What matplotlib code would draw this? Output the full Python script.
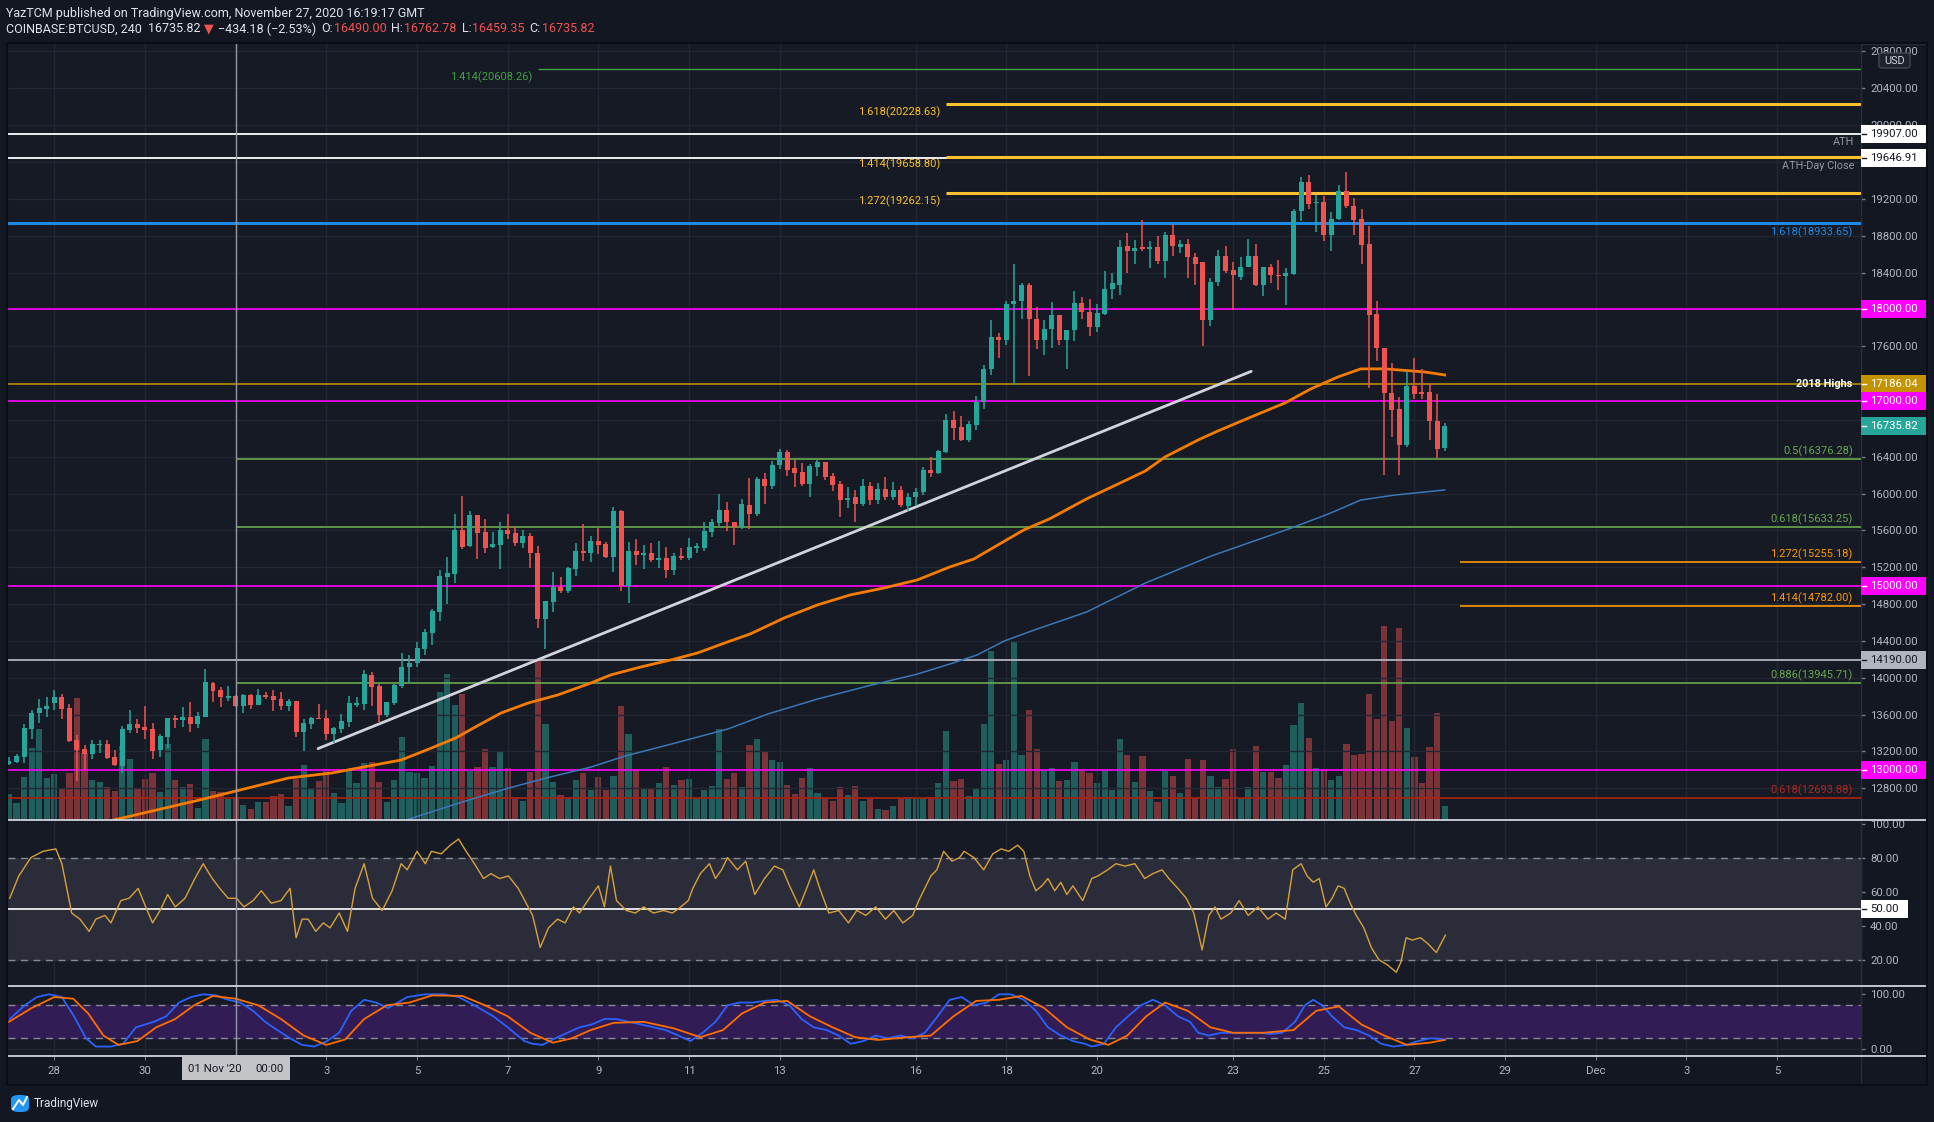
import matplotlib
matplotlib.use('Agg')
import matplotlib.pyplot as plt
from matplotlib.patches import Rectangle, FancyBboxPatch
from matplotlib.lines import Line2D
import numpy as np
import pandas as pd

plt.rcParams['font.family'] = ['Roboto', 'DejaVu Sans']

W, H = 1934, 1122
BG = '#131722'
PANE = '#161a25'
GRID = '#232733'
AXTXT = '#b2b5be'
UP = '#26a69a'
DOWN = '#ef5350'

# ---- 4h candles, COINBASE:BTCUSD, from 2020-10-27 00:00 ----
start = pd.Timestamp('2020-10-27 00:00')

opens = [
    13060, 13089, 13143, 13447, 13614, 13664, 13730, 13787, 13668, 13324,
    13223, 13172, 13270, 13277, 13140, 13042, 13433, 13498, 13465, 13444,
    13216, 13360, 13567, 13541, 13574, 13501, 13578, 13939, 13867, 13780,
    13802, 13697, 13813, 13704, 13813, 13802, 13769, 13693, 13748, 13411,
    13498, 13563, 13563, 13389, 13444, 13523, 13704, 13715, 14030, 13911,
    13600, 13730, 13914, 14121, 14164, 14316, 14490, 14714, 15098, 15130,
    15604, 15431, 15767, 15583, 15424, 15445, 15604, 15572, 15467, 15539,
    15355, 14635, 14826, 14982, 14946, 15185, 15373, 15351, 15485, 15452,
    15311, 15811, 14996, 15373, 15337, 15355, 15279, 15297, 15170, 15322,
    15304, 15413, 15413, 15586, 15684, 15817, 15696, 15642, 15871, 15775,
    16154, 16079, 16309, 16450, 16275, 16234, 16100, 16288, 16342, 16188,
    16100, 15925, 15959, 15884, 16079, 15934, 16046, 15959, 16034, 15863,
    15959, 16013, 16254, 16225, 16450, 16796, 16721, 16584, 16746, 16996,
    17350, 17700, 17671, 18058, 18092, 18267, 17892, 17663, 17788, 17942,
    17663, 17775, 18071, 17968, 17805, 17950, 18218, 18268, 18691, 18632,
    18668, 18659, 18677, 18527, 18804, 18682, 18709, 18573, 18509, 17882,
    18300, 18582, 18427, 18355, 18455, 18582, 18268, 18455, 18377, 18359,
    18382, 19064, 19382, 19155, 19168, 18809, 18982, 19282, 19127, 18982,
    18714, 17945, 17577, 17096, 16918, 16532, 17168, 17105, 17105, 16791,
    16490]
highs = [
    13136, 13172, 13494, 13650, 13769, 13787, 13867, 13820, 13711, 13378,
    13270, 13324, 13324, 13324, 13216, 13480, 13650, 13552, 13693, 13505,
    13389, 13563, 13592, 13679, 13737, 13625, 14095, 13957, 13903, 13910,
    13813, 13820, 13827, 13878, 13845, 13867, 13845, 13766, 13748, 13552,
    13577, 13715, 13650, 13465, 13603, 13802, 13787, 14084, 14063, 13932,
    13737, 13932, 14265, 14244, 14385, 14530, 14750, 15170, 15315, 15778,
    15974, 15811, 15767, 15727, 15583, 15691, 15778, 15648, 15604, 15568,
    15431, 14834, 15149, 15098, 15199, 15463, 15670, 15539, 15630, 15470,
    15858, 15822, 15478, 15507, 15438, 15460, 15485, 15416, 15358, 15409,
    15518, 15460, 15691, 15727, 15995, 15905, 15696, 15942, 16167, 16175,
    16225, 16359, 16488, 16471, 16367, 16329, 16317, 16363, 16342, 16225,
    16134, 16067, 16034, 16154, 16121, 16113, 16175, 16121, 16079, 16009,
    16059, 16288, 16396, 16475, 16863, 16896, 16842, 16788, 17058, 17392,
    17883, 17746, 18087, 18496, 18287, 18283, 18025, 17883, 18083, 17942,
    17775, 18200, 18133, 18109, 18055, 18418, 18391, 18754, 18827, 18754,
    18973, 18745, 18800, 18845, 18927, 18754, 18764, 18609, 18509, 18345,
    18645, 18691, 18518, 18573, 18768, 18714, 18455, 18491, 18536, 18445,
    19086, 19436, 19459, 19245, 19236, 19054, 19345, 19491, 19209, 19095,
    18904, 18095, 17577, 17418, 17050, 17336, 17473, 17350, 17200, 17082,
    16763]
lows = [
    13053, 13071, 13078, 13331, 13505, 13577, 13650, 13556, 13306, 12883,
    12998, 13114, 13179, 13121, 13045, 12970, 13404, 13397, 13339, 13121,
    13143, 13234, 13458, 13469, 13415, 13458, 13578, 13740, 13686, 13751,
    13686, 13621, 13664, 13704, 13766, 13643, 13650, 13643, 13360, 13208,
    13444, 13549, 13324, 13288, 13404, 13465, 13686, 13650, 13694, 13524,
    13578, 13708, 13889, 13940, 14113, 14247, 14356, 14620, 14797, 15033,
    15402, 15424, 15293, 15358, 15413, 15185, 15510, 15434, 15413, 15196,
    14544, 14309, 14718, 14917, 14917, 15109, 15271, 15261, 15348, 15300,
    15149, 14946, 14816, 15224, 15185, 15257, 15188, 15087, 15120, 15279,
    15279, 15351, 15380, 15532, 15652, 15592, 15442, 15617, 15617, 15755,
    15892, 16050, 16267, 16192, 16071, 16079, 15963, 16192, 16150, 16025,
    15746, 15842, 15696, 15867, 15871, 15884, 15934, 15934, 15850, 15809,
    15867, 15984, 16175, 16217, 16442, 16579, 16575, 16559, 16692, 16921,
    17292, 17467, 17613, 17183, 17900, 17275, 17575, 17500, 17579, 17608,
    17350, 17658, 17892, 17709, 17755, 17936, 18109, 18155, 18391, 18491,
    18632, 18445, 18491, 18336, 18582, 18609, 18336, 18268, 17600, 17818,
    18259, 18391, 17995, 18314, 18455, 18255, 18145, 18282, 18209, 18045,
    18373, 18964, 19086, 18836, 18745, 18632, 18973, 19100, 18809, 18491,
    17141, 17436, 16200, 16609, 16200, 16509, 17027, 17027, 16586, 16391,
    16459]
closes = [
    13096, 13150, 13451, 13614, 13668, 13693, 13787, 13664, 13313, 13216,
    13172, 13277, 13281, 13132, 13053, 13444, 13498, 13458, 13433, 13208,
    13368, 13563, 13541, 13574, 13501, 13585, 13954, 13860, 13795, 13802,
    13697, 13813, 13704, 13813, 13787, 13758, 13693, 13748, 13411, 13512,
    13563, 13549, 13389, 13454, 13531, 13722, 13729, 14041, 13904, 13600,
    13737, 13922, 14113, 14157, 14320, 14497, 14729, 15105, 15134, 15604,
    15424, 15767, 15575, 15413, 15452, 15604, 15565, 15467, 15539, 15351,
    14635, 14834, 14982, 14946, 15192, 15373, 15351, 15485, 15445, 15311,
    15811, 14996, 15373, 15333, 15358, 15279, 15297, 15170, 15322, 15304,
    15416, 15424, 15594, 15691, 15822, 15692, 15642, 15884, 15775, 16154,
    16079, 16309, 16450, 16254, 16221, 16100, 16296, 16342, 16175, 16092,
    15925, 15954, 15884, 16079, 15934, 16046, 15959, 16034, 15871, 15959,
    16013, 16254, 16225, 16459, 16796, 16713, 16584, 16754, 16996, 17350,
    17700, 17671, 18058, 18092, 18267, 17892, 17663, 17788, 17942, 17663,
    17775, 18071, 17975, 17805, 17959, 18218, 18282, 18677, 18632, 18664,
    18659, 18677, 18527, 18804, 18686, 18709, 18564, 18495, 17882, 18300,
    18582, 18418, 18368, 18464, 18582, 18268, 18455, 18368, 18359, 18391,
    19064, 19382, 19145, 19168, 18809, 18982, 19282, 19127, 18973, 18700,
    17936, 17577, 17096, 16909, 16532, 17168, 17082, 17082, 16786, 16486,
    16736]
# volume, hundreds of BTC
volumes = [
    26, 17, 43, 72, 91, 42, 46, 32, 47, 122,
    67, 40, 38, 33, 29, 74, 61, 32, 41, 47,
    28, 76, 40, 33, 36, 12, 81, 29, 28, 21,
    22, 15, 11, 18, 18, 24, 26, 14, 41, 55,
    32, 39, 49, 27, 17, 50, 37, 57, 58, 38,
    18, 40, 83, 48, 47, 42, 54, 128, 146, 115,
    126, 49, 53, 71, 53, 69, 52, 21, 19, 48,
    159, 96, 38, 25, 21, 40, 47, 30, 43, 30,
    44, 114, 86, 51, 32, 32, 37, 53, 35, 40,
    41, 21, 30, 34, 91, 41, 47, 33, 75, 81,
    69, 60, 58, 35, 26, 42, 52, 27, 22, 19,
    33, 25, 34, 19, 22, 11, 10, 14, 22, 23,
    21, 22, 23, 37, 89, 39, 41, 24, 31, 96,
    169, 56, 60, 179, 65, 110, 71, 50, 52, 39,
    40, 58, 49, 47, 37, 49, 30, 81, 65, 38,
    64, 29, 18, 49, 44, 27, 61, 22, 60, 44,
    33, 41, 71, 22, 33, 74, 48, 48, 42, 55,
    95, 117, 82, 52, 51, 40, 44, 76, 65, 66,
    126, 101, 194, 99, 192, 92, 63, 37, 73, 107,
    14]

# moving averages (candle index, price)
ma100_idx = [13.7, 25.2, 29.5, 37.0, 42.7, 47.6, 51.9, 55.9, 59.1, 61.7, 65.1, 68.7,
             72.6, 77.0, 79.6, 83.6, 88.1, 91.1, 95.1, 98.1, 102.6, 107.0, 111.3, 115.8,
             120.2, 124.5, 127.7, 131.1, 134.3, 137.7, 142.6, 146.8, 150.4, 153.0, 157.4,
             160.0, 164.4, 168.9, 172.3, 175.9, 178.9, 182.1, 183.8, 187.3, 190.0]
ma100_val = [12453, 12673, 12760, 12912, 12966, 13042, 13107, 13237, 13346, 13465, 13617, 13726,
             13813, 13943, 14030, 14117, 14204, 14269, 14389, 14476, 14650, 14791, 14899, 14975,
             15062, 15203, 15290, 15453, 15605, 15725, 15942, 16105, 16246, 16398, 16583,
             16680, 16832, 16985, 17137, 17267, 17354, 17354, 17343, 17321, 17288]
ma200_idx = [52.5, 59.5, 66.1, 71.0, 77.0, 81.5, 88.1, 95.1, 100.4, 107.0, 113.6, 120.2,
             124.5, 128.1, 131.7, 135.7, 142.6, 150.4, 159.1, 169.7, 174.6, 178.9, 183.4, 190.0]
ma200_val = [12455, 12639, 12802, 12910, 13030, 13150, 13290, 13443, 13606, 13769, 13910, 14040,
             14149, 14247, 14399, 14519, 14714, 15029, 15322, 15626, 15778, 15930, 15984, 16039]

trend_idx = [40.9, 164.4]
trend_val = [13231, 17327]

# RSI(14)
rsi_idx = [0.1, 1.3, 2.9, 4.5, 6.2, 7.0, 8.3, 9.4, 10.6, 11.5, 12.7, 13.5, 14.8, 15.9, 17.1,
           18.1, 19.0, 20.0, 21.0, 22.0, 23.3, 24.6, 25.7, 26.9, 27.9, 29.0, 30.1, 31.1, 32.3,
           33.4, 34.7, 36.0, 37.2, 38.0, 38.8, 39.6, 40.6, 41.6, 42.5, 43.7, 44.8, 45.8, 47.0,
           48.1, 49.4, 50.7, 51.9, 52.7, 54.0, 55.1, 55.9, 57.2, 58.4, 59.5, 60.5, 61.6, 62.8,
           63.8, 64.9, 66.1, 67.4, 68.7, 69.3, 70.3, 71.4, 72.6, 73.6, 74.7, 75.5, 76.8, 78.0,
           78.8, 79.6, 80.4, 81.7, 82.9, 84.0, 85.3, 86.6, 87.8, 88.9, 89.9, 90.5, 91.5, 92.7,
           93.5, 94.3, 95.1, 96.4, 97.5, 98.7, 100.0, 101.3, 102.4, 103.3, 104.6, 105.7, 106.5,
           107.3, 108.5, 109.8, 111.1, 112.2, 113.4, 114.7, 116.0, 117.1, 118.3, 119.6, 120.4,
           121.2, 122.0, 122.8, 123.7, 124.8, 125.8, 126.4, 127.7, 129.0, 130.2, 131.3, 132.3,
           133.5, 134.3, 135.1, 135.9, 136.7, 137.5, 138.4, 139.2, 140.0, 140.8, 142.1, 143.3,
           144.1, 145.4, 146.5, 147.7, 149.0, 150.3, 151.4, 152.6, 153.5, 154.7, 155.8, 156.8,
           157.9, 158.8, 159.6, 160.4, 161.7, 162.8, 164.0, 165.3, 166.6, 167.7, 168.9, 169.9,
           171.0, 171.8, 172.6, 173.4, 174.3, 175.1, 175.9, 176.7, 177.5, 178.3, 179.3, 180.3,
           181.3, 182.4, 183.6, 184.2, 184.9, 185.7, 186.8, 187.8, 188.9, 190.1]
rsi_val = [56.5, 69.6, 80.4, 84.1, 85.5, 76.8, 47.8, 44.2, 37.0, 44.2, 46.4, 42.0, 55.1, 56.5, 62.3,
           51.4, 42.0, 49.3, 58.7, 51.4, 56.5, 68.1, 76.8, 68.1, 62.3, 56.5, 56.5, 51.4, 55.1,
           60.9, 53.6, 55.1, 62.3, 33.3, 44.2, 44.2, 37.0, 42.0, 39.1, 47.8, 37.0, 62.3, 76.8,
           56.5, 49.3, 60.9, 76.8, 73.2, 84.1, 76.8, 84.1, 82.6, 87.7, 91.3, 84.1, 76.8, 68.1,
           71.0, 68.1, 69.6, 62.3, 51.4, 46.4, 27.5, 39.1, 44.2, 42.0, 51.4, 47.8, 56.5, 63.8,
           51.4, 75.4, 55.1, 49.3, 47.8, 51.4, 47.8, 49.3, 47.8, 51.4, 55.1, 62.3, 71.0, 76.8,
           68.1, 73.2, 80.4, 73.2, 78.3, 58.7, 68.1, 75.4, 73.2, 63.8, 51.4, 63.8, 73.2,
           62.3, 47.8, 49.3, 42.0, 49.3, 46.4, 51.4, 44.2, 49.3, 42.0, 46.4, 55.1,
           62.3, 69.6, 73.2, 84.1, 78.3, 80.4, 84.1, 80.4, 73.2, 82.6, 85.5, 84.1,
           87.7, 84.1, 69.6, 60.9, 63.8, 68.1, 60.9, 65.9, 58.7, 63.8, 55.1, 68.1,
           69.6, 73.2, 76.8, 75.4, 76.8, 68.1, 71.0, 73.2, 68.1, 62.3, 56.5, 47.8,
           26.1, 46.4, 51.4, 44.2, 47.8, 55.1, 46.4, 51.4, 44.2, 47.8, 44.2, 73.2,
           76.8, 69.6, 65.9, 68.1, 51.4, 56.5, 63.8, 62.3, 53.6, 46.4, 39.1, 27.5,
           20.3, 17.4, 13.0, 18.8, 33.3, 31.9, 33.3, 29.7, 24.6, 34.8]

# Stoch RSI %K / %D
stk_idx = [0.1, 2.1, 3.7, 5.3, 7.0, 8.6, 10.2, 11.5, 13.5, 15.1, 16.8, 19.2, 20.8, 22.5, 24.1,
           25.7, 27.4, 29.0, 30.6, 32.3, 33.9, 35.5, 37.2, 38.8, 40.4, 42.1, 43.7, 45.3, 47.0,
           48.6, 50.2, 52.7, 55.1, 57.6, 59.5, 61.6, 64.1, 66.0, 68.2, 69.3, 70.6, 72.3, 73.9,
           75.5, 77.1, 78.8, 80.4, 82.0, 83.7, 85.3, 86.9, 88.6, 90.2, 91.8, 93.5, 95.1, 96.7,
           98.4, 100.0, 101.6, 103.3, 104.9, 106.5, 108.2, 109.8, 111.4, 113.1, 114.7, 116.3,
           118.0, 119.6, 121.2, 122.9, 124.5, 126.1, 127.7, 129.4, 131.0, 132.6, 134.3, 135.9,
           137.5, 139.2, 140.8, 142.4, 143.3, 144.9, 146.5, 148.1, 149.8, 151.4, 153.0, 154.7,
           156.3, 157.4, 158.8, 160.4, 162.0, 163.6, 165.3, 166.9, 168.5, 170.2, 171.5, 172.6,
           173.8, 175.1, 176.7, 178.3, 180.0, 181.6, 183.2, 184.9, 186.5, 188.1, 190.1]
stk_val = [55, 80, 95, 100, 95, 60, 20, 5, 5, 10, 40, 50, 60, 85, 95,
           100, 98, 90, 85, 70, 50, 35, 20, 8, 5, 15, 30, 70, 90,
           85, 75, 95, 100, 100, 95, 80, 60, 40, 15, 10, 8, 20, 30,
           40, 45, 55, 55, 50, 45, 40, 35, 25, 15, 30, 50, 80, 85,
           85, 88, 90, 80, 55, 40, 35, 25, 10, 15, 25, 20,
           25, 20, 30, 60, 90, 95, 80, 85, 100, 100, 90, 70,
           40, 25, 15, 10, 5, 10, 40, 60, 80, 90, 80, 60,
           50, 30, 25, 30, 30, 30, 30, 28, 30, 50, 80, 90,
           80, 60, 40, 35, 25, 10, 5, 8, 15, 20, 18]
std_idx = [0, 3, 6, 8.5, 10.5, 12.5, 14.5, 17, 19.5, 22, 24.5, 27, 30, 33, 36, 39, 42, 44.5,
           47, 50, 53, 56, 60, 63, 66, 69, 72, 74.5, 77, 80, 84, 88, 91.5, 94.5, 97, 100, 103,
           106, 109, 112, 115, 119, 122, 125, 128, 131, 134, 137, 140, 143, 145.5, 148, 150.5,
           153, 156, 159, 162, 166, 170, 173, 176, 179, 182, 185, 188, 190]
std_val = [50, 75, 95, 92, 65, 25, 8, 15, 40, 55, 80, 97, 92, 80, 55, 25, 8, 18,
           55, 80, 85, 98, 97, 80, 60, 30, 12, 20, 35, 48, 50, 38, 22, 35, 65, 85, 88,
           60, 40, 22, 17, 22, 25, 60, 88, 90, 97, 75, 40, 18, 8, 25, 60,
           85, 70, 40, 30, 30, 35, 70, 78, 45, 25, 8, 12, 17]

# horizontal levels
full_lines = [
    (19907.00, '#ffffff', 1.3),
    (19646.91, '#ffffff', 1.3),
    (18933.65, '#1e88e5', 2.2),
    (18000.00, '#ff00ff', 1.2),
    (17186.04, '#b8890a', 1.2),
    (17000.00, '#ff00ff', 1.2),
    (15000.00, '#ff00ff', 1.2),
    (14190.00, '#b2b5be', 1.3),
    (13000.00, '#ff00ff', 1.2),
    (12693.88, '#a3230f', 1.3),
]
fib_lines = [  # price, label, colour, width, start, label side
    (20608.26, '1.414(20608.26)', '#43a047', 1.0, '2020-11-07 16:00', 'left_below'),
    (20228.63, '1.618(20228.63)', '#fbc02d', 2.2, '2020-11-16 16:00', 'left_below'),
    (19658.80, '1.414(19658.80)', '#fbc02d', 2.2, '2020-11-16 16:00', 'left_below'),
    (19262.15, '1.272(19262.15)', '#fbc02d', 2.2, '2020-11-16 16:00', 'left_below'),
    (16376.28, '0.5(16376.28)', '#6aa84f', 1.2, '2020-11-01 00:00', 'right_above'),
    (15633.25, '0.618(15633.25)', '#6aa84f', 1.2, '2020-11-01 00:00', 'right_above'),
    (15255.18, '1.272(15255.18)', '#ff9800', 1.2, '2020-11-28 00:00', 'right_above'),
    (14782.00, '1.414(14782.00)', '#ff9800', 1.2, '2020-11-28 00:00', 'right_above'),
    (13945.71, '0.886(13945.71)', '#6aa84f', 1.2, '2020-11-01 00:00', 'right_above'),
]
price_boxes = [
    (19907.00, '19907.00', '#ffffff', '#131722'),
    (19646.91, '19646.91', '#ffffff', '#131722'),
    (18000.00, '18000.00', '#ff00ff', '#ffffff'),
    (17186.04, '17186.04', '#c49300', '#ffffff'),
    (17000.00, '17000.00', '#ff00ff', '#ffffff'),
    (16735.82, '16735.82', '#26a69a', '#ffffff'),
    (15000.00, '15000.00', '#ff00ff', '#ffffff'),
    (14190.00, '14190.00', '#b2b5be', '#131722'),
    (13000.00, '13000.00', '#ff00ff', '#ffffff'),
]
# price scale labels that are not hidden behind a value box
price_ticks = [12800, 13200, 13600, 14000, 14400, 14800, 15200, 15600, 16000, 16400,
               17600, 18400, 18800, 19200, 20000, 20400, 20800]
grid_prices = list(range(12800, 20801, 400))

tick_dates = ['2020-10-28', '2020-10-30', '2020-11-01', '2020-11-03', '2020-11-05', '2020-11-07',
              '2020-11-09', '2020-11-11', '2020-11-13', '2020-11-16', '2020-11-18', '2020-11-20',
              '2020-11-23', '2020-11-25', '2020-11-27', '2020-11-29', '2020-12-01', '2020-12-03',
              '2020-12-05']
tick_labels = ['28', '30', '', '3', '5', '7', '9', '11', '13', '16', '18', '20',
               '23', '25', '27', '29', 'Dec', '3', '5']
cross_date = '2020-11-01 00:00'


def to_idx(ts):
    return (pd.Timestamp(ts) - start) / pd.Timedelta(hours=4)


X_LEFT, X_RIGHT = -0.13, 245.1
L_PX, R_PX = 8, 1861


def rect(top, bottom):
    return [L_PX / W, 1 - bottom / H, (R_PX - L_PX) / W, (bottom - top) / H]


fig = plt.figure(figsize=(W / 100, H / 100), dpi=100, facecolor=BG)

ax = fig.add_axes(rect(44, 820))
axv = ax.twinx()
axr = fig.add_axes(rect(820, 986), sharex=ax)
axs = fig.add_axes(rect(986, 1056), sharex=ax)

ax.set_zorder(3)
axv.set_zorder(2)
ax.patch.set_visible(False)
axv.patch.set_visible(True)
axv.set_facecolor(PANE)
for a in (axr, axs):
    a.set_facecolor(PANE)

x = np.arange(len(closes))
o = np.array(opens, float)
c = np.array(closes, float)
hi = np.array(highs, float)
lo = np.array(lows, float)
up = c >= o
cols = np.where(up, UP, DOWN)

tick_idx = [to_idx(d) for d in tick_dates]

# grid
for a in (ax, axr, axs):
    for t in tick_idx:
        a.axvline(t, color=GRID, lw=1, zorder=0)
for p in grid_prices:
    ax.axhline(p, color=GRID, lw=1, zorder=0)
axr.axhline(40, color=GRID, lw=1, zorder=0)
axs.axhline(0, color=GRID, lw=1, zorder=0)

# volume
axv.bar(x, volumes, width=0.82, color=np.where(up, '#1f5e5c', '#7a3339'), zorder=1)
axv.set_ylim(0, 775)
axv.set_yticks([])
for s in axv.spines.values():
    s.set_visible(False)

# levels
for p, col, lw in full_lines:
    ax.axhline(p, color=col, lw=lw, zorder=2)
for p, lab, col, lw, sd, side in fib_lines:
    xs = to_idx(sd)
    ax.hlines(p, xs, X_RIGHT, color=col, lw=lw, zorder=2)
    if side == 'left_below':
        ax.annotate(lab, (xs - 0.7, p), xytext=(0, -1.5), textcoords='offset points',
                    ha='right', va='top', color=col, fontsize=8, zorder=6)
    else:
        ax.annotate(lab, (244.0, p), xytext=(0, 1.5), textcoords='offset points',
                    ha='right', va='bottom', color=col, fontsize=8, zorder=6)

ax.annotate('1.618(18933.65)', (244.0, 18933.65), xytext=(0, -2), textcoords='offset points',
            ha='right', va='top', color='#1e88e5', fontsize=8, zorder=6)
ax.annotate('0.618(12693.88)', (244.0, 12693.88), xytext=(0, 1.5), textcoords='offset points',
            ha='right', va='bottom', color='#b3261e', fontsize=8, zorder=6)
ax.annotate('ATH', (244.2, 19907.00), xytext=(0, -2.5), textcoords='offset points',
            ha='right', va='top', color='#9598a1', fontsize=7.8, zorder=6)
ax.annotate('ATH-Day Close', (244.2, 19646.91), xytext=(0, -2.5), textcoords='offset points',
            ha='right', va='top', color='#9598a1', fontsize=7.8, zorder=6)
ax.text(244.0, 17186.04, '2018 Highs', ha='right', va='center', color='#ffffff',
        fontsize=7.8, fontweight='bold', zorder=6)

# moving averages and trend line
ax.plot(ma200_idx, ma200_val, color='#3a78b8', lw=1.1, zorder=3)
ax.plot(ma100_idx, ma100_val, color='#f57c00', lw=2.0, zorder=3)
ax.plot(trend_idx, trend_val, color='#d1d4dc', lw=2.0, zorder=3, solid_capstyle='round')

# candles
ax.vlines(x, lo, hi, colors=cols, lw=1.1, zorder=4)
body = np.maximum(np.abs(c - o), 14)
ax.bar(x, body, bottom=np.minimum(o, c), width=0.66, color=cols, zorder=5)

ax.set_xlim(X_LEFT, X_RIGHT)
ax.set_ylim(12456, 20881)

# RSI pane
axr.axhspan(20, 80, color='#2a2d39', zorder=0.5)
axr.axhline(80, color='#868993', lw=1, ls=(0, (5, 4)), zorder=1)
axr.axhline(20, color='#868993', lw=1, ls=(0, (5, 4)), zorder=1)
axr.axhline(50, color='#ffffff', lw=1.2, zorder=1)
axr.plot(rsi_idx, rsi_val, color='#d9a13b', lw=1.0, zorder=3)
axr.set_ylim(4.9, 102.5)

# Stoch RSI pane
axs.axhspan(20, 80, color='#311c55', zorder=0.5)
axs.axhline(80, color='#868993', lw=1, ls=(0, (5, 4)), zorder=1)
axs.axhline(20, color='#868993', lw=1, ls=(0, (5, 4)), zorder=1)
axs.plot(stk_idx, stk_val, color='#2962ff', lw=1.3, zorder=3)
axs.plot(std_idx, std_val, color='#ff6d00', lw=1.3, zorder=3)
axs.set_ylim(-12.2, 115.1)

# crosshair
xc = to_idx(cross_date)
for a in (ax, axr, axs):
    a.axvline(xc, color='#9598a1', lw=1, zorder=7)

# axes styling
for a in (ax, axr, axs):
    for side, s in a.spines.items():
        s.set_visible(side == 'right')
        s.set_color('#2a2e39')
    a.yaxis.tick_right()
    a.tick_params(axis='y', colors='#787b86', labelcolor=AXTXT, labelsize=8.2,
                  length=3, pad=3.5, width=1)
    a.tick_params(axis='x', bottom=False, labelbottom=False)

ax.set_yticks(price_ticks)
ax.set_yticklabels(['%.2f' % v for v in price_ticks])
axr.set_yticks([20, 40, 60, 80, 100])
axr.set_yticklabels(['20.00', '40.00', '60.00', '80.00', '100.00'])
axs.set_yticks([0, 100])
axs.set_yticklabels(['0.00', '100.00'])

axs.set_xticks(tick_idx)
axs.set_xticklabels(tick_labels)
axs.tick_params(axis='x', bottom=True, labelbottom=True, colors='#787b86',
                labelcolor=AXTXT, labelsize=8.2, length=3, pad=4)
ax.set_xlim(X_LEFT, X_RIGHT)


# value boxes on the price scale
def scale_box(a, val, label, fc, tc, width=66):
    ypix = a.transData.transform((0, val))[1]
    fig.add_artist(Rectangle((R_PX / W, (ypix - 9) / H), width / W, 18 / H,
                             transform=fig.transFigure, fc=fc, ec='none', zorder=8))
    fig.add_artist(Line2D([(R_PX + 1) / W, (R_PX + 5) / W], [ypix / H, ypix / H],
                          transform=fig.transFigure, color=tc, lw=1, zorder=9))
    fig.text((R_PX + 9) / W, ypix / H, label, color=tc, fontsize=8.2,
             va='center', ha='left', zorder=9)


for val, lab, fc, tc in price_boxes:
    scale_box(ax, val, lab, fc, tc)
scale_box(axr, 50, '50.00', '#ffffff', '#131722', width=47)

# pane separators and frame
for yy in (820, 986, 1056):
    fig.add_artist(Line2D([L_PX / W, 1927 / W], [1 - yy / H, 1 - yy / H],
                          transform=fig.transFigure, color='#d1d4dc', lw=1.3, zorder=10))
fig.add_artist(Rectangle((R_PX / W, 1 - 1085 / H), (1927 - R_PX) / W, (1085 - 44) / H,
                         transform=fig.transFigure, fc='none', ec='#2a2e39', lw=1, zorder=1))
fig.add_artist(Rectangle((7 / W, 1 - 1085 / H), 1920 / W, (1085 - 43) / H,
                         transform=fig.transFigure, fc='none', ec='#0b0d13', lw=1.5, zorder=11))

# USD button
fig.add_artist(FancyBboxPatch((1879 / W, 1 - 68 / H), 31 / W, 15 / H,
                              boxstyle='round,pad=0,rounding_size=0.002',
                              transform=fig.transFigure, fc='#1e222d', ec='#434651',
                              lw=1, zorder=12))
fig.text(1894.5 / W, 1 - 60.5 / H, 'USD', color='#d1d4dc', fontsize=7.8,
         ha='center', va='center', zorder=13)

# crosshair time label
xpix = axs.transData.transform((xc, 0))[0]
fig.add_artist(Rectangle(((xpix - 54) / W, 1 - 1080 / H), 108 / W, 23 / H,
                         transform=fig.transFigure, fc='#c3c4c8', ec='none', zorder=12))
fig.text((xpix - 48) / W, 1 - 1069 / H, "01 Nov '20", color='#131722', fontsize=8.2,
         ha='left', va='center', zorder=13)
fig.text((xpix + 48) / W, 1 - 1069 / H, '00:00', color='#131722', fontsize=8.2,
         ha='right', va='center', zorder=13)

# header
fig.text(6 / W, 1 - 13 / H, 'YazTCM published on TradingView.com, November 27, 2020 16:19:17 GMT',
         color='#e0e3eb', fontsize=9, va='center', ha='left')
header_runs = [
    ('COINBASE:BTCUSD, 240', '#e0e3eb', 6),
    ('16735.82', '#e0e3eb', 4),
    ('\u25bc', DOWN, 4),
    ('\u2212434.18 (\u22122.53%)', '#e0e3eb', 5),
    ('O:', '#e0e3eb', 1),
    ('16490.00', DOWN, 5),
    ('H:', '#e0e3eb', 1),
    ('16762.78', DOWN, 5),
    ('L:', '#e0e3eb', 1),
    ('16459.35', DOWN, 5),
    ('C:', '#e0e3eb', 1),
    ('16735.82', DOWN, 0),
]
renderer = fig.canvas.get_renderer()
xpos = 6
for s, col, gap in header_runs:
    t = fig.text(xpos / W, 1 - 29 / H, s, color=col, fontsize=9, va='center', ha='left')
    xpos += t.get_window_extent(renderer).width + gap

# TradingView logo
fig.add_artist(FancyBboxPatch((11 / W, 1 - 1112 / H), 18 / W, 17 / H,
                              boxstyle='round,pad=0,rounding_size=0.004',
                              transform=fig.transFigure, fc='#2196f3', ec='none', zorder=12))
fig.add_artist(Line2D([13 / W, 19 / W, 23 / W, 27 / W],
                      [1 - 1109 / H, 1 - 1100 / H, 1 - 1105 / H, 1 - 1097 / H],
                      transform=fig.transFigure, color='#ffffff', lw=1.4, zorder=13))
fig.text(34 / W, 1 - 1104 / H, 'TradingView', color='#e0e3eb', fontsize=8.5,
         ha='left', va='center')

fig.savefig('out.png', dpi=100, facecolor=BG)
